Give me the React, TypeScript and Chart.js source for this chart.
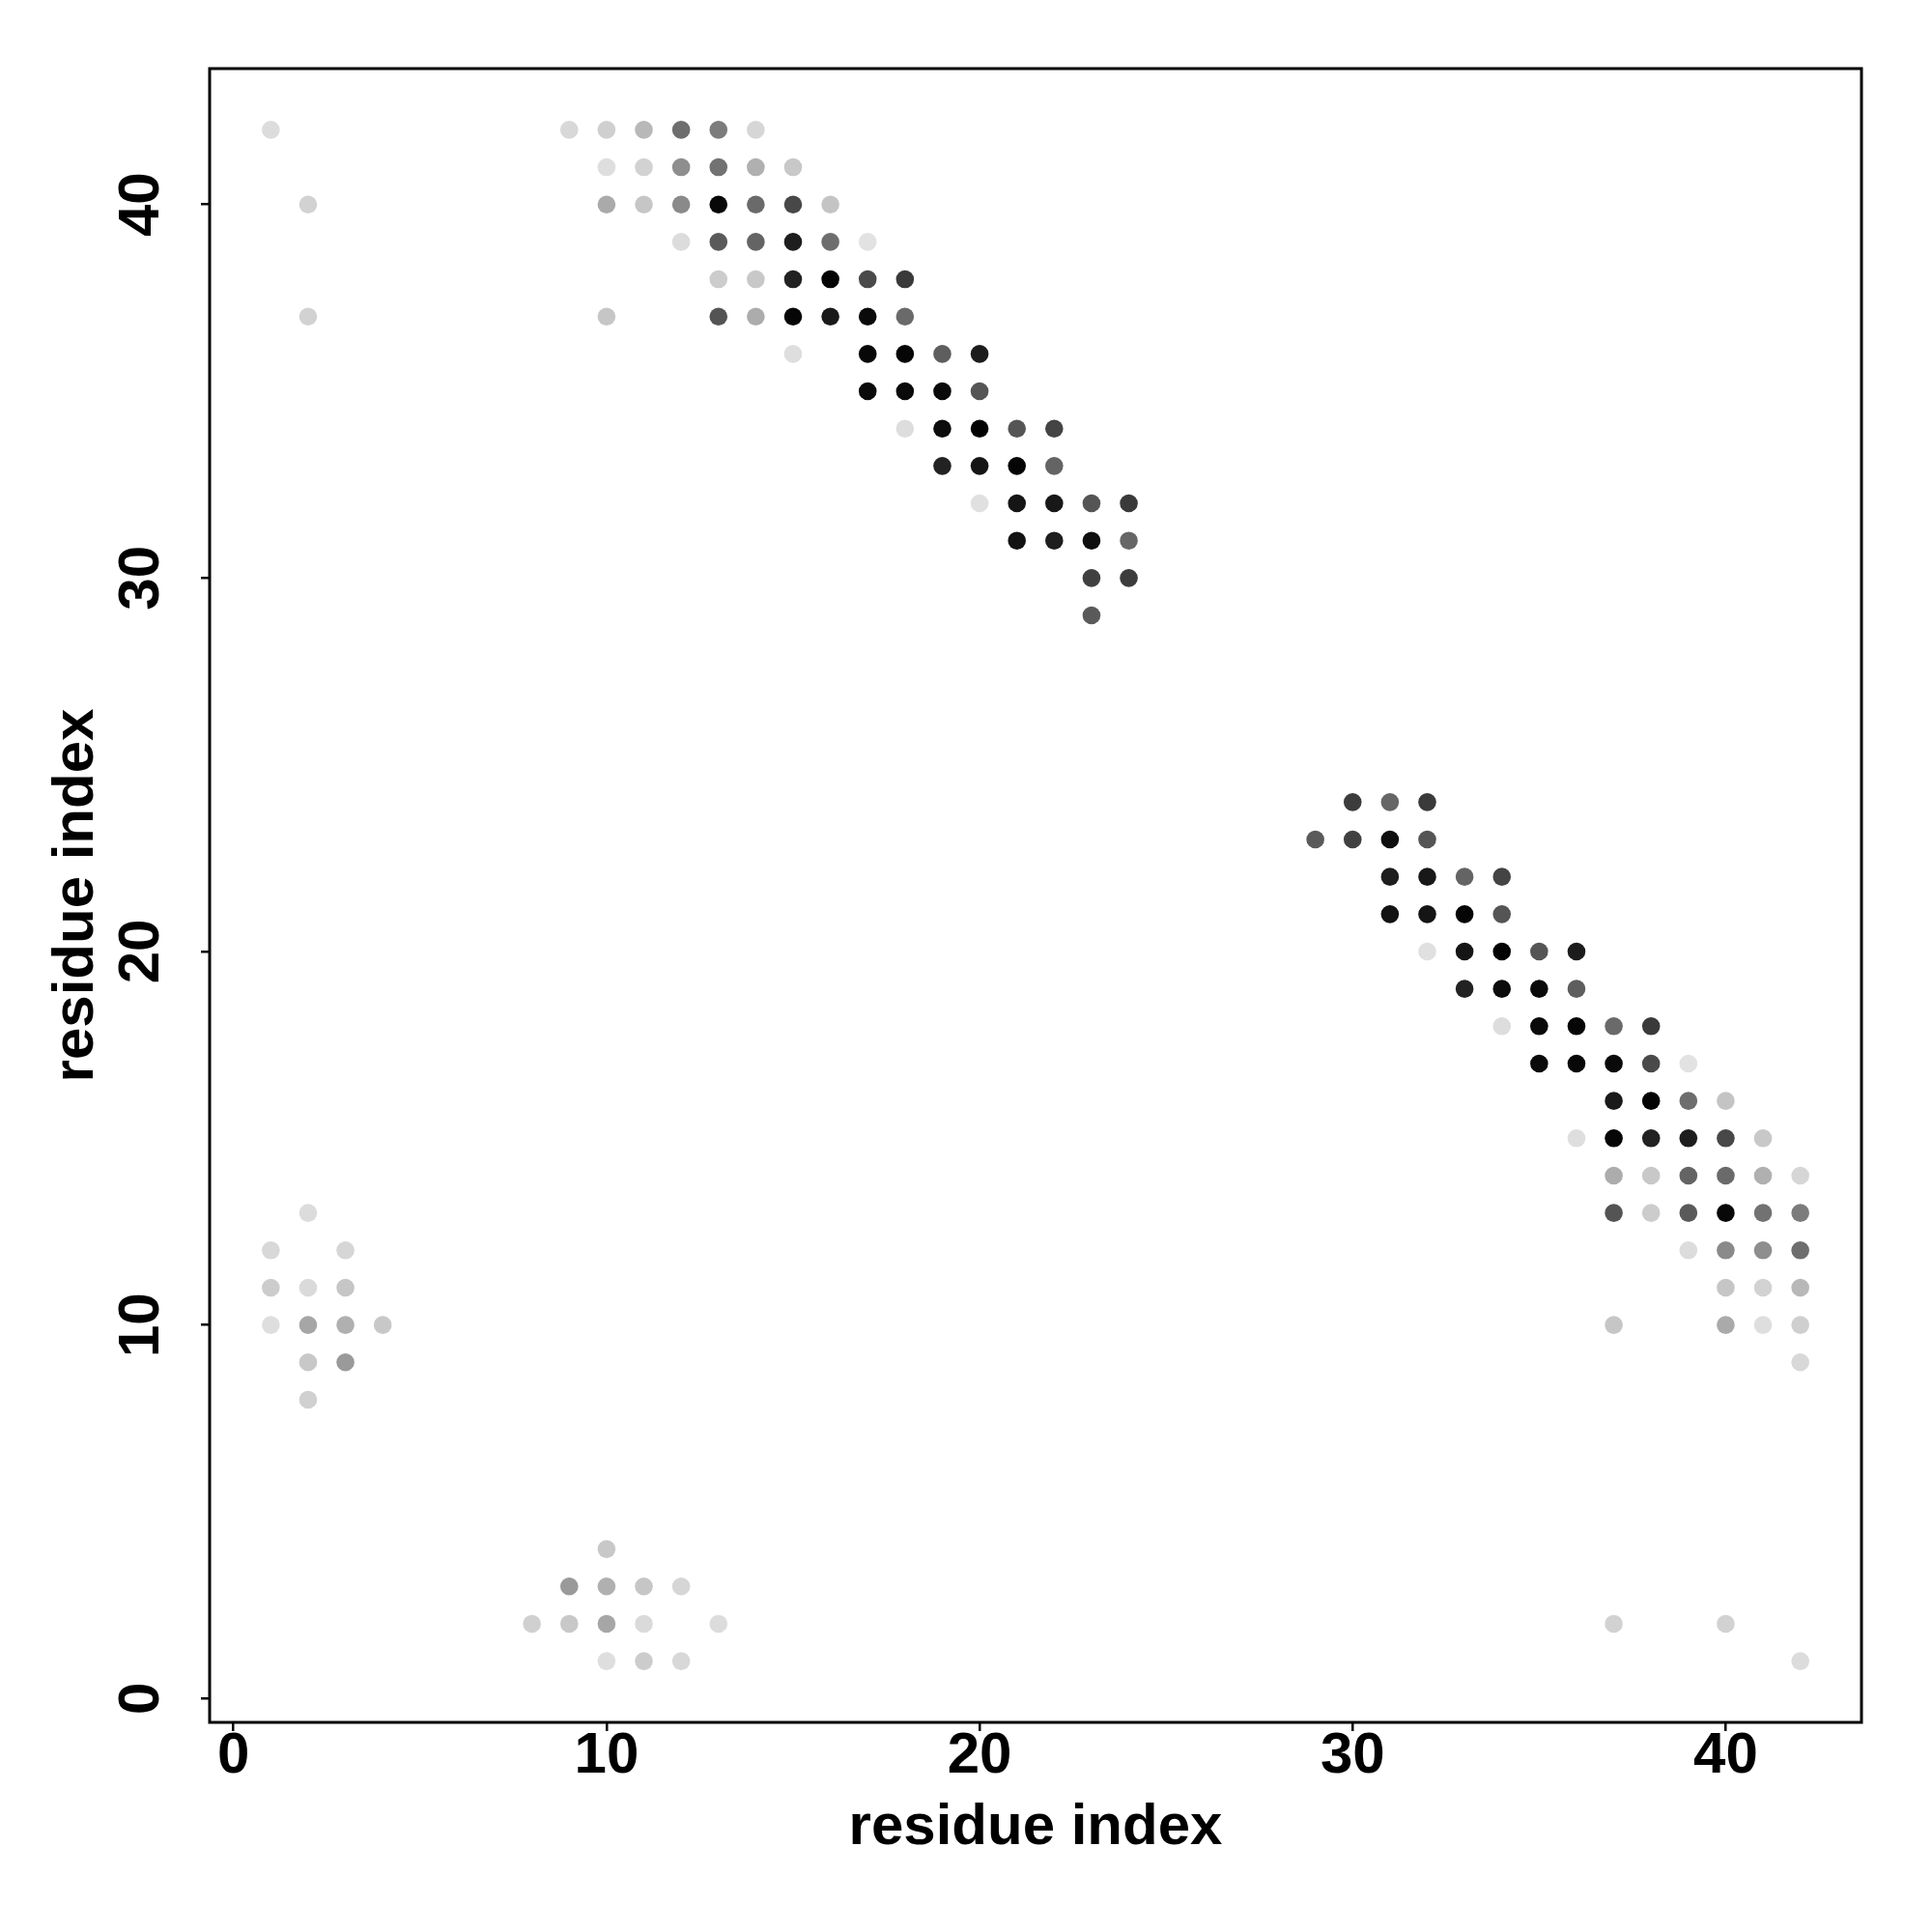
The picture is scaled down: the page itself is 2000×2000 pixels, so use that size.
import React, { useEffect, useRef } from "react";
import { Chart, registerables } from "chart.js";

Chart.register(...registerables);

// residue pairs above the diagonal (x = residue i, y = residue j)
const upperX = [
  1, 2, 2,
  9, 10, 11, 12, 13, 14,
  10, 11, 12, 13, 14, 15,
  10, 11, 12, 13, 14, 15, 16,
  12, 13, 14, 15, 16, 17,
  13, 14, 15, 16, 17, 18,
  10, 13, 14, 15, 16, 17, 18,
  15, 17, 18, 19, 20,
  17, 18, 19, 20,
  18, 19, 20, 21, 22,
  19, 20, 21, 22,
  20, 21, 22, 23, 24,
  21, 22, 23, 24,
  23, 24,
  23,
  2, 1, 3, 1, 2, 3, 1, 2, 3, 4, 2, 3, 2,
];
const upperY = [
  42, 40, 37,
  42, 42, 42, 42, 42, 42,
  41, 41, 41, 41, 41, 41,
  40, 40, 40, 40, 40, 40, 40,
  39, 39, 39, 39, 39, 39,
  38, 38, 38, 38, 38, 38,
  37, 37, 37, 37, 37, 37, 37,
  36, 36, 36, 36, 36,
  35, 35, 35, 35,
  34, 34, 34, 34, 34,
  33, 33, 33, 33,
  32, 32, 32, 32, 32,
  31, 31, 31, 31,
  30, 30,
  29,
  13, 12, 12, 11, 11, 11, 10, 10, 10, 10, 9, 9, 8,
];
// grey level of each point (0 = black, 255 = white)
const upperShade = [
  220, 210, 210,
  216, 207, 184, 110, 124, 214,
  222, 210, 142, 114, 176, 200,
  170, 198, 138, 8, 106, 72, 196,
  220, 90, 100, 30, 110, 226,
  204, 200, 34, 4, 74, 58,
  198, 84, 172, 6, 26, 10, 106,
  222, 8, 6, 94, 28,
  10, 10, 10, 85,
  221, 12, 2, 85, 68,
  34, 21, 5, 100,
  224, 21, 24, 85, 58,
  18, 30, 15, 102,
  64, 60,
  90,
  220, 216, 214, 204, 218, 198, 222, 166, 176, 200, 200, 154, 208,
];

// residue pairs below the diagonal
const lowerX = [
  42, 40, 37,
  42, 42, 42, 42, 42, 42,
  41, 41, 41, 41, 41, 41,
  40, 40, 40, 40, 40, 40, 40,
  39, 39, 39, 39, 39, 39,
  38, 38, 38, 38, 38, 38,
  37, 37, 37, 37, 37, 37, 37,
  36, 36, 36, 36, 36,
  35, 35, 35, 35,
  34, 34, 34, 34, 34,
  33, 33, 33, 33,
  32, 32, 32, 32, 32,
  31, 31, 31, 31,
  30, 30,
  29,
  13, 12, 12, 11, 11, 11, 10, 10, 10, 10, 9, 9, 8,
];
const lowerY = [
  1, 2, 2,
  9, 10, 11, 12, 13, 14,
  10, 11, 12, 13, 14, 15,
  10, 11, 12, 13, 14, 15, 16,
  12, 13, 14, 15, 16, 17,
  13, 14, 15, 16, 17, 18,
  10, 13, 14, 15, 16, 17, 18,
  15, 17, 18, 19, 20,
  17, 18, 19, 20,
  18, 19, 20, 21, 22,
  19, 20, 21, 22,
  20, 21, 22, 23, 24,
  21, 22, 23, 24,
  23, 24,
  23,
  2, 1, 3, 1, 2, 3, 1, 2, 3, 4, 2, 3, 2,
];
const lowerShade = [
  220, 210, 210,
  216, 207, 184, 110, 124, 214,
  222, 210, 142, 114, 176, 200,
  170, 198, 138, 8, 106, 72, 196,
  220, 90, 100, 30, 110, 226,
  204, 200, 34, 4, 74, 58,
  198, 84, 172, 6, 26, 10, 106,
  222, 8, 6, 94, 28,
  10, 10, 10, 85,
  221, 12, 2, 85, 68,
  34, 21, 5, 100,
  224, 21, 24, 85, 58,
  18, 30, 15, 102,
  64, 60,
  90,
  220, 216, 214, 204, 218, 198, 222, 166, 176, 200, 200, 154, 208,
];

const xTickValues = [0, 10, 20, 30, 40];
const yTickValues = [0, 10, 20, 30, 40];
const axisMin = -0.64;
const axisMax = 43.64;
const xTitle = "residue index";
const yTitle = "residue index";

const FONT = "'Liberation Sans', Arial, Helvetica, sans-serif";
const FONT_SIZE = 60;

const frame = {
  id: "frame",
  afterDraw(chart: any) {
    const { ctx, chartArea } = chart;
    ctx.save();
    ctx.lineWidth = 3;
    ctx.strokeStyle = "#000";
    ctx.strokeRect(chartArea.left, chartArea.top, chartArea.right - chartArea.left, chartArea.bottom - chartArea.top);
    ctx.restore();
  },
};

const grey = (g: number) => `rgb(${g},${g},${g})`;

export default function App() {
  const ref = useRef<HTMLCanvasElement | null>(null);

  useEffect(() => {
    if (!ref.current) return;
    const makeSet = (xs: number[], ys: number[], shades: number[]) => ({
      data: xs.map((x, i) => ({ x, y: ys[i] })),
      backgroundColor: shades.map(grey),
      pointBackgroundColor: shades.map(grey),
      pointRadius: 9.3,
      pointHoverRadius: 9.3,
      pointBorderWidth: 0,
      borderWidth: 0,
      showLine: false,
    });
    const chart = new Chart(ref.current, {
      type: "scatter",
      data: {
        datasets: [makeSet(upperX, upperY, upperShade), makeSet(lowerX, lowerY, lowerShade)],
      },
      options: {
        animation: false,
        responsive: false,
        devicePixelRatio: 1,
        events: [],
        layout: { padding: { left: 43, top: 71, right: 73, bottom: 72 } },
        plugins: { legend: { display: false }, tooltip: { enabled: false } },
        scales: {
          x: {
            type: "linear",
            position: "bottom",
            min: axisMin,
            max: axisMax,
            afterBuildTicks: (s: any) => {
              s.ticks = xTickValues.map((v) => ({ value: v }));
            },
            afterFit: (s: any) => {
              s.height = 145;
            },
            grid: { display: true, drawOnChartArea: false, drawTicks: true, tickLength: 9, lineWidth: 2.5, color: "#000" },
            border: { display: false },
            ticks: {
              autoSkip: false,
              maxRotation: 0,
              minRotation: 0,
              padding: 2,
              color: "#000",
              font: { family: FONT, size: FONT_SIZE, weight: "bold", lineHeight: 0.8 },
            },
            title: {
              display: true,
              text: xTitle,
              color: "#000",
              padding: 0,
              font: { family: FONT, size: FONT_SIZE, weight: "bold", lineHeight: 1.2 },
            },
          },
          y: {
            type: "linear",
            position: "left",
            min: axisMin,
            max: axisMax,
            afterBuildTicks: (s: any) => {
              s.ticks = yTickValues.map((v) => ({ value: v }));
            },
            afterFit: (s: any) => {
              s.width = 174;
            },
            grid: { display: true, drawOnChartArea: false, drawTicks: true, tickLength: 9, lineWidth: 2.5, color: "#000" },
            border: { display: false },
            ticks: {
              autoSkip: false,
              minRotation: 90,
              maxRotation: 90,
              crossAlign: "center",
              padding: 27,
              color: "#000",
              font: { family: FONT, size: FONT_SIZE, weight: "bold", lineHeight: 1.2 },
            },
            title: {
              display: true,
              text: yTitle,
              color: "#000",
              padding: 0,
              font: { family: FONT, size: FONT_SIZE, weight: "bold", lineHeight: 1.2 },
            },
          },
        },
      },
      plugins: [frame],
    } as any);
    return () => chart.destroy();
  }, []);

  return (
    <div style={{ position: "absolute", left: 0, top: 0, width: 2000, height: 2000, background: "#fff" }}>
      <canvas ref={ref} width={2000} height={2000} style={{ width: 2000, height: 2000, display: "block" }} />
    </div>
  );
}
